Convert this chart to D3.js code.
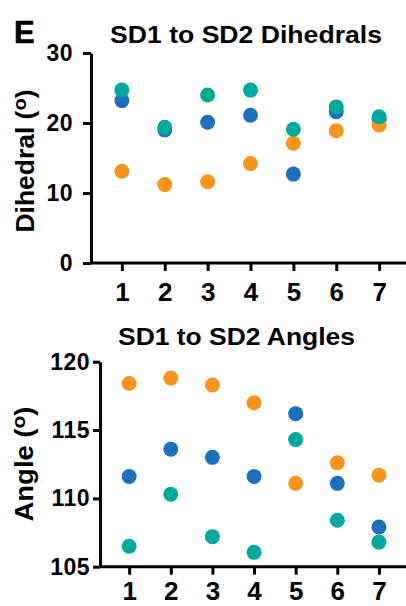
<!DOCTYPE html>
<html>
<head>
<meta charset="utf-8">
<script src="https://d3js.org/d3.v7.min.js"></script>
<style>
  body { margin: 0; background: #fff; }
  svg { display: block; }
  text { font-family: "Liberation Sans", Arial, sans-serif; font-weight: bold; fill: #000; }
</style>
</head>
<body>
<svg id="chart"></svg>
<script>
const categories = [1, 2, 3, 4, 5, 6, 7];

const dihedralBlue   = [23.2, 19.0, 20.1, 21.1, 12.7, 21.6, 20.5];
const dihedralOrange = [13.1, 11.2, 11.6, 14.2, 17.1, 18.9, 19.7];
const dihedralTeal   = [24.7, 19.4, 24.0, 24.7, 19.1, 22.3, 20.9];

const angleBlue   = [111.6, 113.6, 113.0, 111.6, 116.2, 111.1, 107.9];
const angleOrange = [118.4, 118.8, 118.3, 117.0, 111.1, 112.6, 111.7];
const angleTeal   = [106.5, 110.3, 107.2, 106.05, 114.3, 108.4, 106.8];

const dihedralTicks = [0, 10, 20, 30];
const angleTicks = [105, 110, 115, 120];

const colors = { blue: "#1d70bb", orange: "#f7941e", teal: "#00a99c" };

const svg = d3.select("#chart")
    .attr("width", 406)
    .attr("height", 606);

svg.append("text")
    .attr("x", 14)
    .attr("y", 43)
    .attr("font-size", 31)
    .attr("stroke", "#000")
    .attr("stroke-width", 0.6)
    .text("E");

function panel(cfg) {
    const x = d3.scaleLinear().domain(cfg.xDomain).range(cfg.xRange);
    const y = d3.scaleLinear().domain(cfg.yDomain).range(cfg.yRange);

    const xAxis = svg.append("g")
        .attr("transform", `translate(0,${cfg.yRange[0]})`)
        .call(d3.axisBottom(x).tickValues(categories).tickFormat(d3.format("d"))
            .tickSize(8).tickPadding(cfg.xPad).tickSizeOuter(0));
    xAxis.select(".domain").attr("d", `M${cfg.xRange[0]},0H${cfg.xRange[1]}`);

    const yAxis = svg.append("g")
        .attr("transform", `translate(${cfg.xRange[0]},0)`)
        .call(d3.axisLeft(y).tickValues(cfg.ticks).tickFormat(d3.format("d"))
            .tickSize(cfg.yTick).tickPadding(cfg.yPad).tickSizeOuter(0));

    [xAxis, yAxis].forEach(a => {
        a.selectAll("path, line").attr("stroke", "#000").attr("stroke-width", 3);
        a.selectAll("text").attr("font-family", null).attr("fill", "#000");
    });
    xAxis.selectAll("text").attr("font-size", 26);
    yAxis.selectAll("text").attr("font-size", 23).attr("letter-spacing", 0.5);

    const series = [
        { values: cfg.blue, color: colors.blue },
        { values: cfg.orange, color: colors.orange },
        { values: cfg.teal, color: colors.teal }
    ];

    series.forEach(s => {
        svg.append("g")
            .selectAll("circle")
            .data(categories)
            .enter()
            .append("circle")
            .attr("cx", (d, i) => x(d))
            .attr("cy", (d, i) => y(s.values[i]))
            .attr("r", 7.5)
            .attr("fill", s.color);
    });

    svg.append("text")
        .attr("x", cfg.titleX)
        .attr("y", cfg.titleY)
        .attr("text-anchor", "middle")
        .attr("font-size", 23)
        .attr("textLength", cfg.titleLen)
        .attr("lengthAdjust", "spacingAndGlyphs")
        .text(cfg.title);

    const lab = svg.append("text")
        .attr("transform", `translate(${cfg.labelX},${cfg.labelY}) rotate(-90)`)
        .attr("text-anchor", "middle")
        .attr("font-size", 25)
        .attr("textLength", cfg.labelLen)
        .attr("lengthAdjust", "spacingAndGlyphs");
    lab.append("tspan").text(cfg.label + " (");
    lab.append("tspan").attr("font-size", 19).attr("dy", -8).text("o");
    lab.append("tspan").attr("dy", 8).text(")");
}

panel({
    xDomain: [0.28, 7.65], xRange: [91, 407],
    yDomain: [0, 30], yRange: [263, 53],
    ticks: dihedralTicks, yTick: 8, yPad: 10, xPad: 12,
    blue: dihedralBlue, orange: dihedralOrange, teal: dihedralTeal,
    title: "SD1 to SD2 Dihedrals", titleX: 246, titleY: 43, titleLen: 272,
    label: "Dihedral", labelX: 34, labelY: 161, labelLen: 143
});

panel({
    xDomain: [0.3, 7.65], xRange: [100, 406],
    yDomain: [105, 120], yRange: [566.7, 361.7],
    ticks: angleTicks, yTick: 7, yPad: 3, xPad: 7,
    blue: angleBlue, orange: angleOrange, teal: angleTeal,
    title: "SD1 to SD2 Angles", titleX: 236.5, titleY: 345, titleLen: 237,
    label: "Angle", labelX: 33, labelY: 464, labelLen: 115
});
</script>
</body>
</html>
